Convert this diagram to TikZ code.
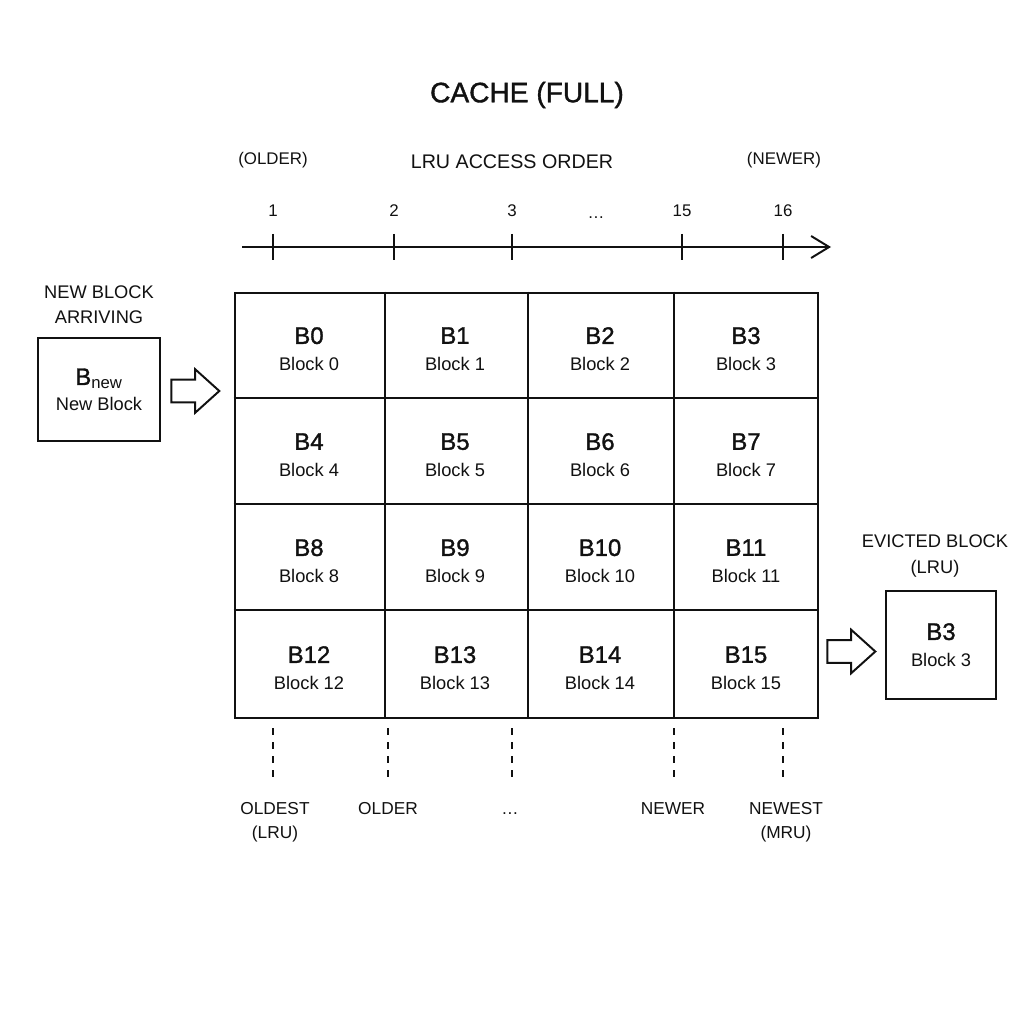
\documentclass[tikz,border=0pt]{standalone}
\usepackage{fontspec}
\setmainfont{Liberation Sans}[BoldFont=Liberation Sans, BoldFeatures={FakeBold=1.3}]
\usepackage{tikz}
\usetikzlibrary{positioning,shapes.arrows,calc,arrows.meta}
\definecolor{ink}{HTML}{111111}
\tikzset{
  >=stealth,
  every node/.style={text=ink},
  % --- nodes
  ttl/.style    = {font=\fontsize{20}{24}\selectfont\bfseries},
  hdr/.style    = {font=\fontsize{14}{17}\selectfont},
  side/.style   = {font=\fontsize{12}{15}\selectfont},
  num/.style    = {font=\fontsize{12}{15}\selectfont},
  lbl/.style    = {font=\fontsize{13}{17.5}\selectfont, align=center},
  bot/.style    = {font=\fontsize{12.3}{17}\selectfont, align=center, anchor=north, inner sep=0pt},
  blk/.style    = {align=center, inner sep=0pt, font=\fontsize{13}{19}\selectfont},
  box/.style    = {draw=ink, line width=1.5pt, fill=white, align=center, inner sep=0pt,
                   font=\fontsize{13}{19}\selectfont},
  cachebox/.style = {draw=ink, line width=2pt, inner sep=0pt},
  bigarrow/.style = {shape=single arrow, draw=ink, line width=1.4pt, fill=white,
                     minimum height=12mm, minimum width=10.5mm, inner sep=2.6mm,
                     single arrow head extend=2.6mm, single arrow tip angle=84},
  % --- edges
  axis/.style   = {-{Straight Barb[length=4.5mm,width=5.5mm]}, line width=1.4pt, draw=ink},
  tick/.style   = {line width=1.4pt, draw=ink},
  grid/.style   = {line width=1.4pt, draw=ink},
  guide/.style  = {line width=1.4pt, draw=ink, dash pattern=on 1.8mm off 1.7mm},
}
\newcommand{\bname}[1]{{\fontsize{17}{19}\selectfont\bfseries #1}}
\begin{document}
\begin{tikzpicture}[x=0.25mm,y=-0.25mm]
  \useasboundingbox[fill=white] (0,0) rectangle (1024,1024);
  \node[ttl] (title) at (527,95) {CACHE (FULL)};
  % access order axis
  \node[side] (older) at (273,160) {(OLDER)};
  \node[hdr] (order) at (512,162) {LRU ACCESS ORDER};
  \node[side] (newer) at (784,160) {(NEWER)};
  \coordinate (ax0) at (242,247);
  \coordinate (ax1) at (831,247);
  \draw[axis] (ax0) -- (ax1);
  \foreach \x/\n in {273/1,394/2,512/3,682/15,783/16} {
    \draw[tick] (\x,234) -- (\x,260);
    \node[num] (t\n) at (\x,211) {\n};
  }
  \node[num] (tdots) at (596,213) {\vphantom{1}\ldots};
  % the cache: 4 x 4 blocks
  \node[cachebox, minimum width=145.75mm, minimum height=106.25mm] (cache) at (526.5,505.5) {};
  \foreach \x in {385,528,674}
    \draw[grid] (\x,0 |- cache.north) -- (\x,0 |- cache.south);
  \foreach \y in {398,504,610}
    \draw[grid] (cache.west |- 0,\y) -- (cache.east |- 0,\y);
  \foreach \cy [count=\r from 0] in {349,455,561,668} {
    \foreach \cx [count=\c from 0] in {309,455,600,746} {
      \pgfmathtruncatemacro{\k}{4*\r+\c}
      \node[blk] (b\k) at (\cx,\cy) {\bname{B\k}\\Block \k};
    }
  }
  % incoming block
  \node[box, minimum width=30.5mm, minimum height=25.75mm] (newblk) at (99,389.5)
    {{\fontsize{17}{19}\selectfont\bfseries B\mdseries\textsubscript{new}}\\[-1pt]New Block};
  \node[lbl] (newlbl) at (99,305) {NEW BLOCK\\ARRIVING};
  \node[bigarrow] (inarr) at (189,391) {};
  % evicted block
  \node[box, minimum width=27.5mm, minimum height=27mm] (outblk) at (941,645)
    {\bname{B3}\\Block 3};
  \node[lbl, font=\fontsize{13}{19}\selectfont] (outlbl) at (935,556) {EVICTED BLOCK\\(LRU)};
  \node[bigarrow] (outarr) at (845,651.5) {};
  % recency guides
  \foreach \x in {273,388,512,674,783}
    \draw[guide] (\x,728) -- (\x,779);
  \node[bot] (oldest) at (275,802) {OLDEST\\(LRU)};
  \node[bot] (olderb) at (388,802) {OLDER};
  \node[bot] (bdots) at (510,802) {\vphantom{O}\ldots};
  \node[bot] (newerb) at (673,802) {NEWER};
  \node[bot] (newest) at (786,802) {NEWEST\\(MRU)};
\end{tikzpicture}
\end{document}
